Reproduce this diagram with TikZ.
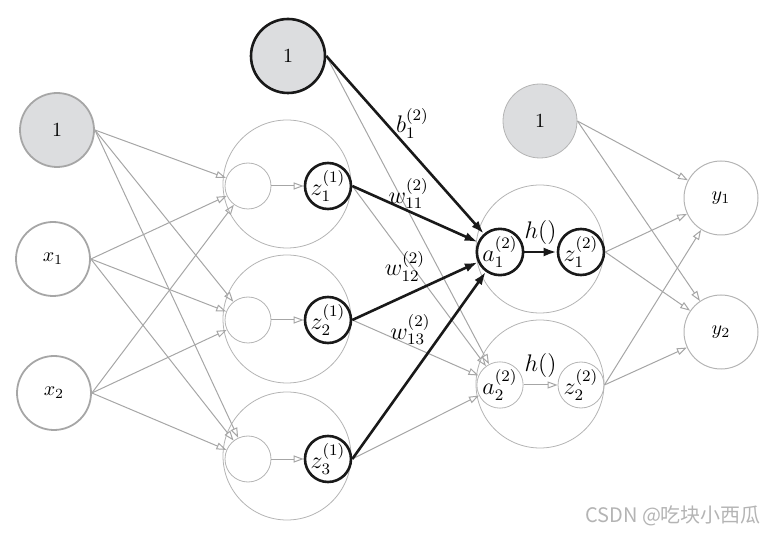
\documentclass[tikz,border=0pt]{standalone}
\usepackage{amsmath}
\usepackage{amssymb}
\usepackage{fontspec}
\newfontfamily\cjk{Noto Sans CJK SC}
\usetikzlibrary{arrows.meta}

\definecolor{nodegray}{HTML}{DCDDDF}
\definecolor{linegray}{HTML}{A6A6A6}
\definecolor{ringgray}{HTML}{B4B4B4}

\begin{document}
\begin{tikzpicture}[x=0.5pt,y=-0.5pt,
	unit/.style={circle,draw=linegray,line width=0.9pt,minimum size=37pt,inner sep=0pt},
	bias/.style={unit,fill=nodegray},
	ring/.style={circle,draw=ringgray,line width=0.4pt,minimum size=64pt,inner sep=0pt},
	cell/.style={circle,draw=ringgray,line width=0.4pt,minimum size=23pt,inner sep=0pt,font=\large},
	hot/.style={cell,draw=black!90,line width=1.3pt},
	lab/.style={font=\large},
	link/.style={draw=linegray,line width=0.5pt,-{Triangle[open,length=5pt,width=3.5pt]}},
	boldlink/.style={draw=black!90,line width=1.3pt,-{Latex[length=6.5pt,width=4.5pt]}}]
	\useasboundingbox (0,0) rectangle (777,534);
	% input layer
	\node[bias] (b1) at (57,130) {$1$};
	\node[unit] (x1) at (53,259) {$x_1$};
	\node[unit] (x2) at (54,393) {$x_2$};
	% first layer
	\node[bias,draw=black!90,line width=1.3pt] (bt) at (288,56) {$1$};
	\foreach \i/\y/\yy in {1/184/186,2/319/320,3/456/459}{
		\node[ring] (h\i) at (287,\y) {};
		\node[cell] (s\i) at (248,\yy) {};
		\node[hot] (z\i) at (328,\yy) {$z^{(1)}_{\i}$};
		\draw[link] (s\i) -- (z\i);
	}
	\foreach \u in {b1,x1,x2}
		\foreach \i in {1,2,3}
			\draw[link] (\u.east) -- (s\i);
	% second layer
	\node[bias,draw=ringgray,line width=0.4pt] (b2) at (540,121) {$1$};
	\node[ring] (g1) at (540,249) {};
	\node[ring] (g2) at (540,384) {};
	\node[hot] (a1) at (500,252) {$a^{(2)}_1$};
	\node[hot] (o1) at (581,252) {$z^{(2)}_1$};
	\node[cell] (a2) at (500,385) {$a^{(2)}_2$};
	\node[cell] (o2) at (581,385) {$z^{(2)}_2$};
	\foreach \u in {bt,z1,z2,z3}
		\draw[link] (\u.east) -- (a2);
	\draw[boldlink] (bt.east) -- node[lab,pos=0.38,right=1pt] {$b^{(2)}_1$} (a1);
	\draw[boldlink] (z1.east) -- node[lab,pos=0.45,above,inner sep=0.5pt] {$w^{(2)}_{11}$} (a1);
	\draw[boldlink] (z2.east) -- node[lab,pos=0.42,above=3pt] {$w^{(2)}_{12}$} (a1);
	\draw[boldlink] (z3.east) -- node[lab,pos=0.69,left=3pt] {$w^{(2)}_{13}$} (a1);
	\draw[boldlink] (a1) -- node[lab,above] {$h()$} (o1);
	\draw[link] (a2) -- node[lab,above] {$h()$} (o2);
	% output layer
	\node[unit,draw=ringgray,line width=0.5pt] (y1) at (721,198) {$y_1$};
	\node[unit,draw=ringgray,line width=0.5pt] (y2) at (721,332) {$y_2$};
	\foreach \u in {b2,o1,o2}
		\foreach \v in {y1,y2}
			\draw[link] (\u.east) -- (\v);
	\node[text=ringgray,anchor=base east] (mark) at (768,522) {\cjk CSDN @吃块小西瓜};
\end{tikzpicture}
\end{document}
